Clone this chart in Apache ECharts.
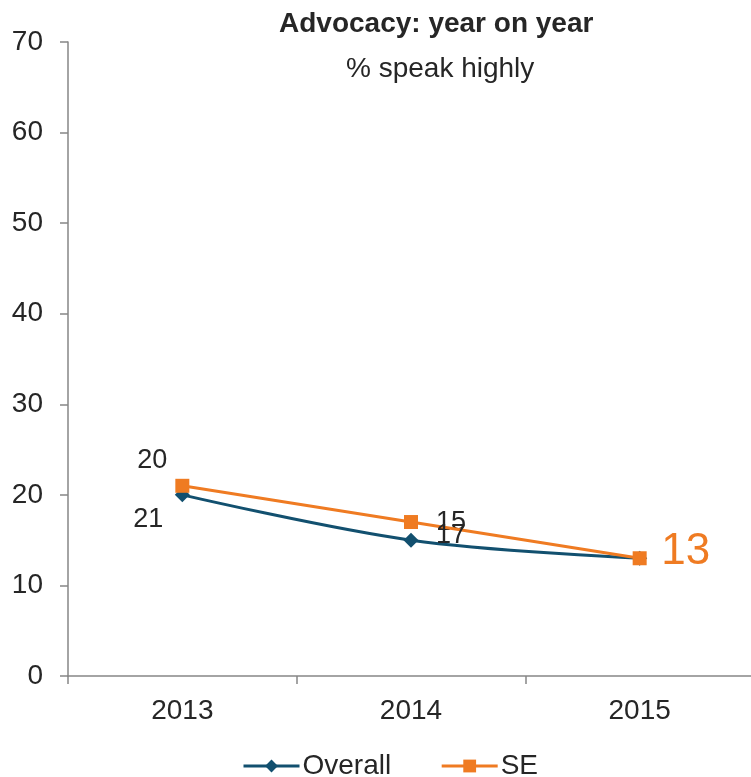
<!DOCTYPE html>
<html>
<head>
<meta charset="utf-8">
<script src="https://cdn.jsdelivr.net/npm/echarts@6/dist/echarts.min.js"></script>
<style>html,body{margin:0;padding:0;background:#fff}#c{width:751px;height:777px}</style>
</head>
<body>
<div id="c"></div>
<script>
const categories = ['2013', '2014', '2015'];
const overallValues = [20, 15, 13];
const seValues = [21, 17, 13];
const yTicks = [0, 10, 20, 30, 40, 50, 60, 70];
const titleText = 'Advocacy: year on year';
const subtitleText = '% speak highly';

const OVERALL = '#12506f';
const SE = '#ef7b22';
const TXT = '#262626';
const FONT = 'Liberation Sans, Arial, sans-serif';

const overallLabelOffsets = [[-30, -34], [40, -18], null];
const seLabelOffsets = [[-34, 34], [40, 14], [46, -6]];

function buildData(values, offsets, big) {
  return values.map((v, i) => {
    const o = offsets[i];
    if (!o) return { value: v, label: { show: false } };
    const isBig = big && i === values.length - 1;
    return {
      value: v,
      label: {
        show: true,
        position: 'inside',
        offset: o,
        fontSize: isBig ? 44 : 27,
        color: isBig ? SE : TXT,
        fontFamily: FONT
      }
    };
  });
}

const chart = echarts.init(document.getElementById('c'));
chart.setOption({
  animation: false,
  textStyle: { fontFamily: FONT },
  title: [
    { text: titleText, left: 274, top: 5, textStyle: { fontSize: 28, fontWeight: 'bold', color: TXT, fontFamily: FONT } },
    { text: subtitleText, left: 341, top: 50, textStyle: { fontSize: 28, fontWeight: 'normal', color: TXT, fontFamily: FONT } }
  ],
  legend: {
    left: 237,
    top: 747,
    itemWidth: 56,
    itemHeight: 16,
    itemGap: 49,
    lineStyle: { width: 3 },
    textStyle: { fontSize: 28, color: TXT, fontFamily: FONT, padding: [0, 0, 0, -2] },
    data: ['Overall', 'SE']
  },
  grid: { left: 68, top: 42, width: 686, height: 634, containLabel: false, outerBoundsMode: 'none' },
  xAxis: {
    type: 'category',
    data: categories,
    boundaryGap: true,
    axisLine: { lineStyle: { color: '#868686', width: 1.5 } },
    axisTick: { show: true, length: 8, lineStyle: { color: '#868686', width: 1.5 } },
    axisLabel: { fontSize: 28, color: TXT, margin: 21, fontFamily: FONT }
  },
  yAxis: {
    type: 'value',
    min: 0,
    max: 70,
    interval: 10,
    splitLine: { show: false },
    axisLine: { show: true, lineStyle: { color: '#868686', width: 1.5 } },
    axisTick: { show: true, length: 8, lineStyle: { color: '#868686', width: 1.5 } },
    axisLabel: {
      fontSize: 28, color: TXT, margin: 25, fontFamily: FONT,
      formatter: v => (yTicks.indexOf(v) >= 0 ? String(v) : '')
    }
  },
  series: [
    {
      name: 'Overall',
      type: 'line',
      smooth: 0.35,
      symbol: 'diamond',
      symbolSize: 15,
      itemStyle: { color: OVERALL },
      lineStyle: { color: OVERALL, width: 3 },
      data: buildData(overallValues, overallLabelOffsets, false),
      z: 2
    },
    {
      name: 'SE',
      type: 'line',
      symbol: 'rect',
      symbolSize: 14,
      itemStyle: { color: SE },
      lineStyle: { color: SE, width: 3 },
      data: buildData(seValues, seLabelOffsets, true),
      z: 3
    }
  ]
});
</script>
</body>
</html>
